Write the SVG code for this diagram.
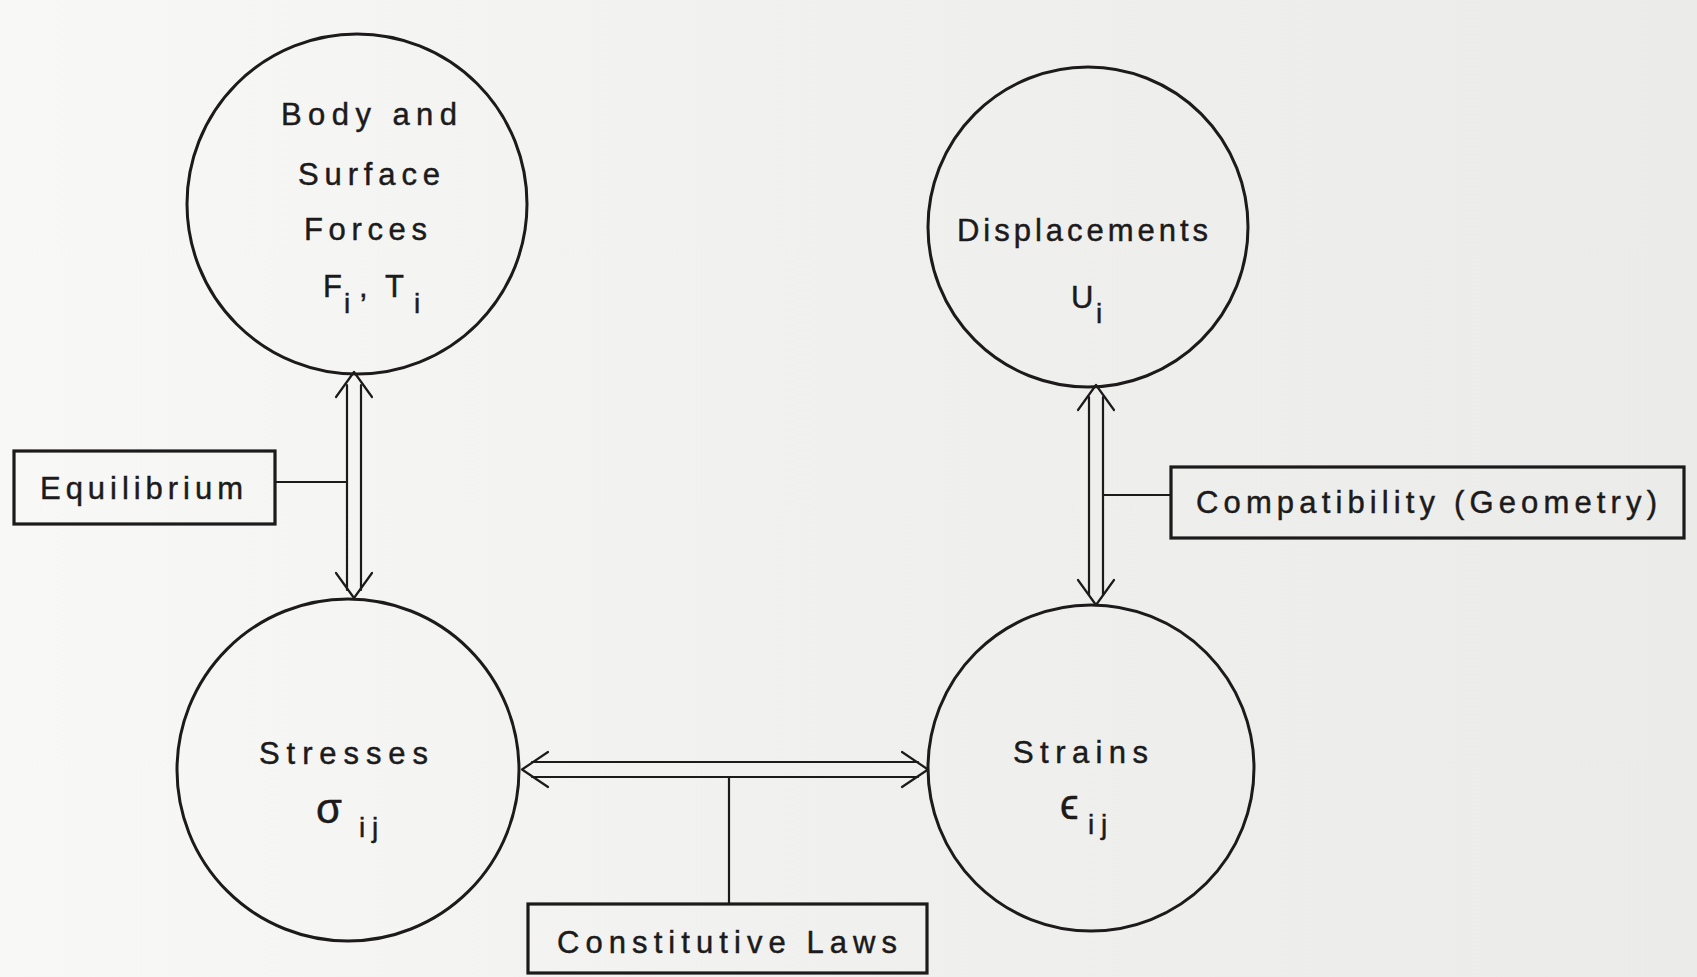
<svg xmlns="http://www.w3.org/2000/svg" width="1697" height="977" viewBox="0 0 1697 977">
<defs>
<linearGradient id="paper" x1="0" y1="0" x2="1" y2="0">
<stop offset="0" stop-color="#f8f8f7"/>
<stop offset="0.5" stop-color="#f0f0ef"/>
<stop offset="1" stop-color="#ebebea"/>
</linearGradient>
<style>
.node{fill:none;stroke:#1c1a1a;stroke-width:3}
.box{fill:none;stroke:#1c1a1a;stroke-width:3.2}
.ln{fill:none;stroke:#1c1a1a;stroke-width:2.2;stroke-linecap:round;stroke-linejoin:round}
.t{font-family:"Liberation Sans","DejaVu Sans",sans-serif;font-size:31px;fill:#1c1a1a;stroke:#1c1a1a;stroke-width:0.45}
.sub{font-size:28px}
.greek{font-size:42px}
</style>
</defs>
<rect x="0" y="0" width="1697" height="977" fill="url(#paper)"/>

<g id="connectors">
<!-- Body/Forces <-> Stresses -->
<line class="ln" x1="347" y1="385" x2="347" y2="590"/>
<line class="ln" x1="361" y1="385" x2="361" y2="590"/>
<polyline class="ln" points="336,397 354,372 372,397"/>
<polyline class="ln" points="336,573 354,598 372,573"/>
<!-- Displacements <-> Strains -->
<line class="ln" x1="1089" y1="397" x2="1089" y2="595"/>
<line class="ln" x1="1103" y1="397" x2="1103" y2="595"/>
<polyline class="ln" points="1078,410 1096,385 1114,410"/>
<polyline class="ln" points="1078,580 1096,605 1114,580"/>
<!-- Stresses <-> Strains -->
<line class="ln" x1="532" y1="762" x2="918" y2="762"/>
<line class="ln" x1="532" y1="777" x2="918" y2="777"/>
<polyline class="ln" points="548,752 522,769.5 548,787"/>
<polyline class="ln" points="902,752 928,769.5 902,787"/>
<!-- label leaders -->
<line class="ln" x1="275" y1="482" x2="347" y2="482"/>
<line class="ln" x1="1103" y1="495" x2="1171" y2="495"/>
<line class="ln" x1="729" y1="777" x2="729" y2="904"/>
</g>

<g id="node-forces">
<circle class="node" cx="357" cy="204" r="170"/>
<text class="t" x="281" y="125" textLength="176" lengthAdjust="spacing">Body and</text>
<text class="t" x="298" y="185" textLength="142" lengthAdjust="spacing">Surface</text>
<text class="t" x="304" y="240" textLength="123" lengthAdjust="spacing">Forces</text>
<text class="t"><tspan x="323" y="297">F</tspan><tspan class="sub" x="344" y="313">i</tspan><tspan x="359" y="297">,</tspan><tspan x="385" y="297">T</tspan><tspan class="sub" x="414" y="313">i</tspan></text>
</g>

<g id="node-displacements">
<circle class="node" cx="1088" cy="227" r="160"/>
<text class="t" x="957" y="241" textLength="251" lengthAdjust="spacing">Displacements</text>
<text class="t"><tspan x="1071" y="308">U</tspan><tspan class="sub" x="1096" y="323">i</tspan></text>
</g>

<g id="node-stresses">
<circle class="node" cx="348" cy="770" r="171"/>
<text class="t" x="259" y="764" textLength="169" lengthAdjust="spacing">Stresses</text>
<text class="t"><tspan class="greek" x="316" y="823">σ</tspan><tspan class="sub" x="359" y="837">i</tspan><tspan class="sub" x="372" y="837">j</tspan></text>
</g>

<g id="node-strains">
<circle class="node" cx="1091" cy="768" r="163"/>
<text class="t" x="1013" y="763" textLength="135" lengthAdjust="spacing">Strains</text>
<text class="t"><tspan class="greek" x="1060" y="819">ϵ</tspan><tspan class="sub" x="1088" y="834">i</tspan><tspan class="sub" x="1101" y="834">j</tspan></text>
</g>

<g id="label-equilibrium">
<rect class="box" x="14" y="451" width="261" height="73"/>
<text class="t" x="40" y="499" textLength="203" lengthAdjust="spacing">Equilibrium</text>
</g>

<g id="label-compatibility">
<rect class="box" x="1171" y="467" width="513" height="71"/>
<text class="t" x="1196" y="513" textLength="461" lengthAdjust="spacing">Compatibility (Geometry)</text>
</g>

<g id="label-constitutive">
<rect class="box" x="528" y="904" width="399" height="69"/>
<text class="t" x="557" y="953" textLength="340" lengthAdjust="spacing">Constitutive Laws</text>
</g>
</svg>
